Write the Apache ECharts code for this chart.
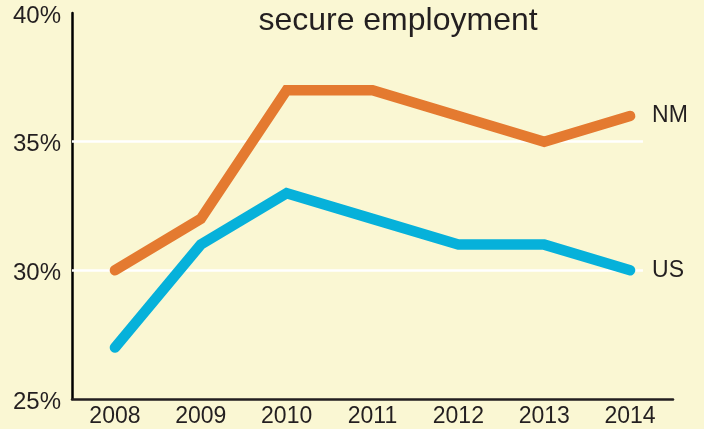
<!DOCTYPE html>
<html>
<head>
<meta charset="utf-8">
<script src="https://cdn.jsdelivr.net/npm/echarts@6/dist/echarts.min.js"></script>
<style>
html,body{margin:0;padding:0;background:#faf7d3;}
#c{width:704px;height:429px;}
</style>
</head>
<body>
<div id="c"></div>
<script>
var years = ['2008','2009','2010','2011','2012','2013','2014'];
var nmValues = [30, 32, 37, 37, 36, 35, 36];
var usValues = [27, 31, 33, 32, 31, 31, 30];
var gridValues = [30, 35];
var titleText = 'secure employment';

var chart = echarts.init(document.getElementById('c'));
var font = 'Liberation Sans, Arial, sans-serif';
chart.setOption({
  backgroundColor: '#faf7d3',
  animation: false,
  title: {
    text: titleText, left: 393, top: 0, textAlign: 'center',
    textStyle: {fontFamily: font, fontSize: 32, fontWeight: 'normal', color: '#231f20'}
  },
  grid: {left: 72, right: 31, top: 13, bottom: 30},
  xAxis: [{
    type: 'category', data: years, boundaryGap: true,
    axisLine: {lineStyle: {color: '#231f20', width: 2.5}},
    axisTick: {inside: true, length: 8, alignWithLabel: true, lineStyle: {color: '#231f20', width: 2}},
    axisLabel: {fontFamily: font, fontSize: 23, color: '#231f20', margin: 6},
    splitLine: {show: false}
  }, {
    type: 'value', min: 2007.5, max: 2014.5, show: false
  }],
  yAxis: {
    type: 'value', min: 25, max: 40, interval: 5,
    axisLine: {show: true, lineStyle: {color: '#000', width: 2.5}},
    axisTick: {show: false},
    axisLabel: {fontFamily: font, fontSize: 24, color: '#231f20', margin: 11, verticalAlign: 'top', lineHeight: 6, formatter: '{value}%'},
    splitLine: {show: false}
  },
  series: [{
    type: 'line', xAxisIndex: 1, data: [], silent: true, z: 1,
    markLine: {
      z: 1, symbol: 'none', silent: true, label: {show: false},
      lineStyle: {color: '#ffffff', width: 2.5, type: 'solid'},
      data: gridValues.map(function (v) { return [{coord: [2007.5, v]}, {coord: [2014.15, v]}]; })
    }
  }, {
    name: 'NM', type: 'line', data: nmValues, symbol: 'none', z: 3,
    lineStyle: {color: '#e47a30', width: 10.5, cap: 'round', join: 'miter'},
    endLabel: {show: true, formatter: 'NM', distance: 22, fontFamily: font, fontSize: 23, color: '#231f20'}
  }, {
    name: 'US', type: 'line', data: usValues, symbol: 'none', z: 3,
    lineStyle: {color: '#06b1da', width: 10.5, cap: 'round', join: 'miter'},
    endLabel: {show: true, formatter: 'US', distance: 22, fontFamily: font, fontSize: 23, color: '#231f20'}
  }]
});
</script>
</body>
</html>
